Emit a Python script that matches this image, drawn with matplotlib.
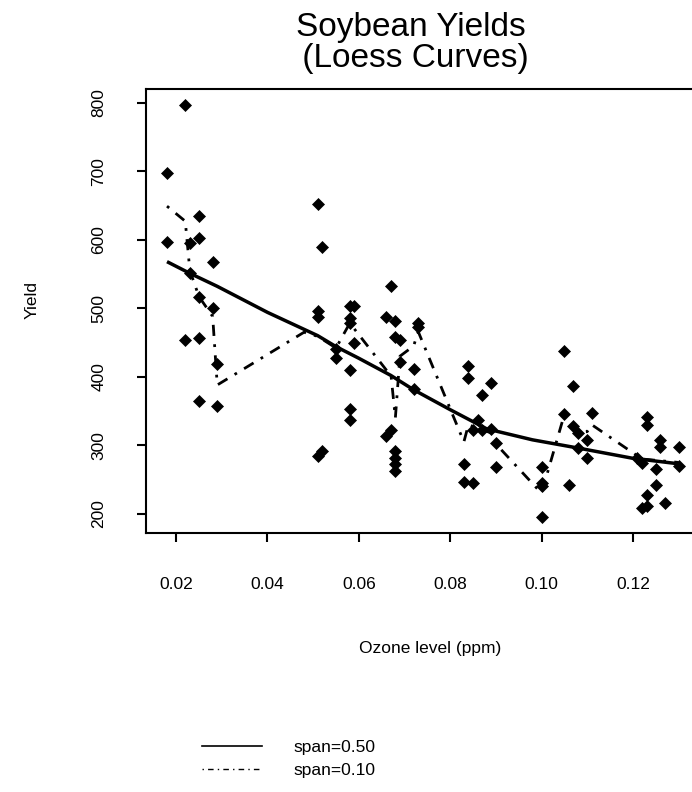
"""Soybean yields against ozone level, with two loess curves."""
import matplotlib
matplotlib.use("Agg")
import matplotlib.pyplot as plt
from matplotlib.lines import Line2D

plt.rcParams['font.family'] = ['Liberation Sans', 'DejaVu Sans']

# observed points (ozone ppm, yield)
ozone = [0.018, 0.018, 0.022, 0.023, 0.023, 0.025, 0.025, 0.025, 0.028, 0.028,
         0.022, 0.025, 0.029, 0.025, 0.029,
         0.051, 0.052, 0.051, 0.051, 0.051, 0.052, 0.055, 0.055,
         0.058, 0.059, 0.058, 0.058, 0.059, 0.058, 0.058, 0.058,
         0.066, 0.068, 0.067, 0.069, 0.068, 0.069, 0.066, 0.067,
         0.068, 0.068, 0.068, 0.068, 0.072, 0.072, 0.073, 0.073,
         0.083, 0.083, 0.085, 0.084, 0.084, 0.086, 0.085, 0.087, 0.089,
         0.087, 0.089, 0.090, 0.090,
         0.100, 0.100, 0.100, 0.100,
         0.105, 0.107, 0.105, 0.107, 0.108, 0.110, 0.108, 0.110, 0.111, 0.106,
         0.121, 0.122, 0.123, 0.123, 0.125, 0.125, 0.123, 0.122, 0.123, 0.127,
         0.126, 0.126, 0.130, 0.130]
yield_obs = [697, 597, 796, 595, 552, 634, 602, 517, 568, 500,
             454, 456, 418, 365, 358,
             652, 590, 496, 487, 284, 292, 440, 427,
             503, 504, 486, 478, 450, 410, 353, 337,
             487, 481, 533, 453, 458, 421, 313, 322,
             291, 281, 272, 263, 411, 382, 479, 473,
             273, 246, 245, 415, 398, 337, 322, 322, 324,
             373, 391, 303, 268,
             269, 245, 240, 196,
             437, 387, 345, 328, 318, 307, 296, 281, 347, 242,
             281, 274, 342, 330, 265, 242, 227, 208, 212, 216,
             308, 297, 297, 270]

# loess fit, span = 0.50
fit50_x = [0.018, 0.023, 0.029, 0.040, 0.051, 0.055, 0.060, 0.067, 0.072,
           0.080, 0.088, 0.098, 0.108, 0.120, 0.130]
fit50_y = [568, 551, 532, 494, 460, 444, 427, 402, 381,
           352, 324, 308, 296, 281, 273]

# loess fit, span = 0.10
fit10_x = [0.018, 0.022, 0.023, 0.025, 0.028, 0.029, 0.048, 0.051, 0.055,
           0.058, 0.059, 0.066, 0.067, 0.068, 0.069, 0.072, 0.073, 0.083,
           0.084, 0.086, 0.089, 0.090, 0.100, 0.105, 0.107, 0.108, 0.110,
           0.111, 0.122, 0.130]
fit10_y = [649, 627, 555, 517, 488, 388, 465, 459, 442,
           478, 470, 410, 405, 340, 430, 445, 466, 305,
           330, 325, 318, 302, 230, 345, 325, 318, 320,
           330, 280, 275]

xticks = [0.02, 0.04, 0.06, 0.08, 0.10, 0.12]
yticks = [200, 300, 400, 500, 600, 700, 800]
labels = ['span=0.50', 'span=0.10']

W, H = 692, 792
dashdot = (0, (1, 3, 4, 3))


def main():
    fig = plt.figure(figsize=(W / 100, H / 100), dpi=100)
    ax = fig.add_axes([146 / W, 1 - 533 / H, 554 / W, 444 / H])

    ax.plot(ozone, yield_obs, 'D', color='black', ms=6, mew=0.5, zorder=3)
    ax.plot(fit50_x, fit50_y, color='black', lw=2.5, solid_capstyle='butt')
    ax.plot(fit10_x, fit10_y, color='black', lw=2.0, linestyle=dashdot)

    ax.set_xlim(0.0134, 0.1347)
    ax.set_ylim(172, 820)
    ax.set_xticks(xticks)
    ax.set_xticklabels([f'{t:.2f}' for t in xticks])
    ax.set_yticks(yticks)
    ax.set_yticklabels([str(t) for t in yticks], rotation=90, va='center')
    ax.tick_params(direction='out', length=6.5, width=1.5, labelsize=12.5)
    ax.tick_params(axis='x', pad=25)
    ax.tick_params(axis='y', pad=22)
    for s in ax.spines.values():
        s.set_linewidth(1.5)

    fig.text(411 / W, 1 - 12 / H, 'Soybean Yields\n (Loess Curves)', ha='center',
             va='top', fontsize=24, linespacing=1.0)
    fig.text(430 / W, 1 - 648 / H, 'Ozone level (ppm)', ha='center',
             va='center', fontsize=12.5)
    fig.text(32 / W, 1 - 300 / H, 'Yield', ha='center', va='center',
             rotation=90, fontsize=12.5)

    handles = [Line2D([], [], color='black', lw=1.2),
               Line2D([], [], color='black', lw=1.0, linestyle=dashdot)]
    fig.legend(handles, labels, loc='upper left', frameon=False,
               bbox_to_anchor=(195 / W, 1 - 733 / H), fontsize=12.5,
               handlelength=3.45, handletextpad=1.8, labelspacing=0.45,
               borderaxespad=0)

    fig.savefig('out.png', dpi=100)


if __name__ == "__main__":
    main()
